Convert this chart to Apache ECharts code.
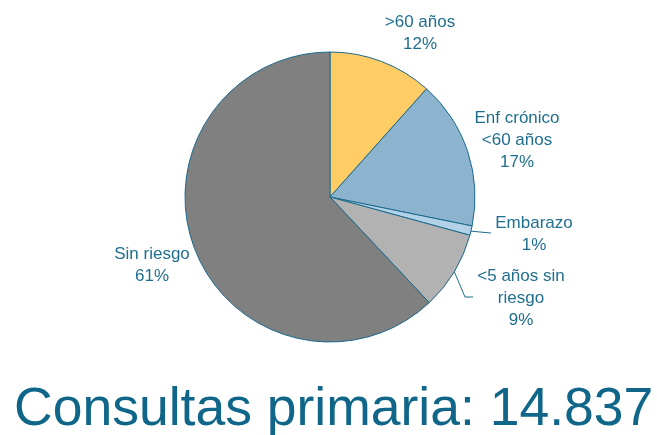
<!DOCTYPE html>
<html>
<head>
<meta charset="utf-8">
<script src="https://cdn.jsdelivr.net/npm/echarts@6/dist/echarts.min.js"></script>
<style>
  html, body { margin: 0; padding: 0; background: #ffffff; }
  #main { width: 657px; height: 435px; }
</style>
</head>
<body>
<div id="main"></div>
<script>
// datos del gráfico
var categorias = ['>60 años', 'Enf crónico\n<60 años', 'Embarazo', '<5 años sin\nriesgo', 'Sin riesgo'];
var valores = [11.6, 16.6, 1.05, 8.75, 62.0];
var etiquetas = ['12%', '17%', '1%', '9%', '61%'];
var colores = ['#FFCC66', '#8DB4CF', '#B3D2E8', '#B2B2B2', '#808080'];
var titulo = 'Consultas primaria: 14.837';

// posiciones de las etiquetas (layout)
var posEtiquetas = [[420, 33], [517, 140], [534, 234], [521, 298], [152, 265]];
var lineasEtiquetas = {
  2: [[470, 231], [480, 232], [491, 233]],
  3: [[454, 271], [465, 297], [473, 297]]
};

var textoColor = '#1F6E8F';
var chart = echarts.init(document.getElementById('main'), null, { renderer: 'canvas' });

var datos = categorias.map(function (c, i) {
  return {
    name: c,
    value: valores[i],
    itemStyle: { color: colores[i] },
    labelLine: { show: lineasEtiquetas[i] !== undefined }
  };
});

var option = {
  backgroundColor: '#ffffff',
  animation: false,
  title: {
    text: titulo,
    left: 14,
    top: 383,
    padding: 0,
    textStyle: {
      color: '#0F6688',
      fontSize: 53.5,
      fontWeight: 'normal',
      fontFamily: 'Liberation Sans, Arial, sans-serif'
    }
  },
  series: [{
    type: 'pie',
    center: [330, 197],
    radius: 145,
    startAngle: 90,
    clockwise: true,
    avoidLabelOverlap: false,
    itemStyle: {
      borderColor: '#1B6A8C',
      borderWidth: 1
    },
    label: {
      show: true,
      position: 'outside',
      color: textoColor,
      fontSize: 17,
      lineHeight: 22,
      align: 'center',
      fontFamily: 'Liberation Sans, Arial, sans-serif',
      formatter: function (p) {
        return p.name + '\n' + etiquetas[p.dataIndex];
      }
    },
    labelLine: {
      show: false,
      lineStyle: { color: textoColor, width: 1 }
    },
    labelLayout: function (p) {
      var pos = posEtiquetas[p.dataIndex];
      var res = {
        x: pos[0],
        y: pos[1],
        align: 'center',
        verticalAlign: 'middle'
      };
      if (lineasEtiquetas[p.dataIndex]) {
        res.labelLinePoints = lineasEtiquetas[p.dataIndex];
      }
      return res;
    },
    data: datos
  }]
};

chart.setOption(option);
</script>
</body>
</html>
